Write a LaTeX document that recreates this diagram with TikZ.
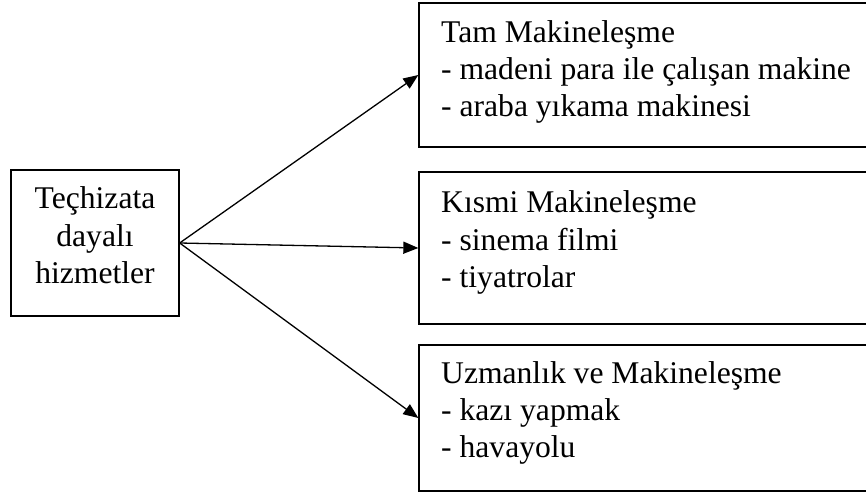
\documentclass[tikz,border=0pt]{standalone}
\usepackage{fontspec}
\setmainfont{Liberation Serif}
\usetikzlibrary{arrows.meta}
\begin{document}
\begin{tikzpicture}[x=1pt,y=-1pt,
  every node/.style={font=\fontsize{31.6}{37}\selectfont},
  box/.style={draw=black, line width=1.3pt, rectangle, inner sep=0pt},
  txt/.style={inner sep=0pt, anchor=base west, align=left},
  link/.style={line width=1.3pt, -{Triangle[length=15pt,width=12pt]}}]
  \clip (0,0) rectangle (866,494);
  \useasboundingbox (0,0) rectangle (866,494);
  % source box and its label (anchored on the last baseline)
  \node[box, minimum width=168pt, minimum height=146pt] (src) at (95,243) {};
  \node[inner sep=0pt, anchor=base, align=center] (srct) at (95,283)
    {Teçhizata\\dayalı\\hizmetler};
  % category boxes (open to the right edge)
  \node[box, minimum width=449pt, minimum height=144pt] (b1) at (643.5,75) {};
  \node[box, minimum width=449pt, minimum height=152pt] (b2) at (643.5,248) {};
  \node[box, minimum width=449pt, minimum height=146pt] (b3) at (643.5,418) {};
  % box contents (anchored on the last baseline)
  \node[txt] (t1) at (441,117) {Tam Makineleşme\\- madeni para ile çalışan makine\\- araba yıkama makinesi};
  \node[txt] (t2) at (441,287) {Kısmi Makineleşme\\- sinema filmi\\- tiyatrolar};
  \node[txt] (t3) at (441,457) {Uzmanlık ve Makineleşme\\- kazı yapmak\\- havayolu};
  % connectors
  \draw[link] (src.east) -- (b1.west);
  \draw[link] (src.east) -- (b2.west);
  \draw[link] (src.east) -- (b3.west);
\end{tikzpicture}
\end{document}
